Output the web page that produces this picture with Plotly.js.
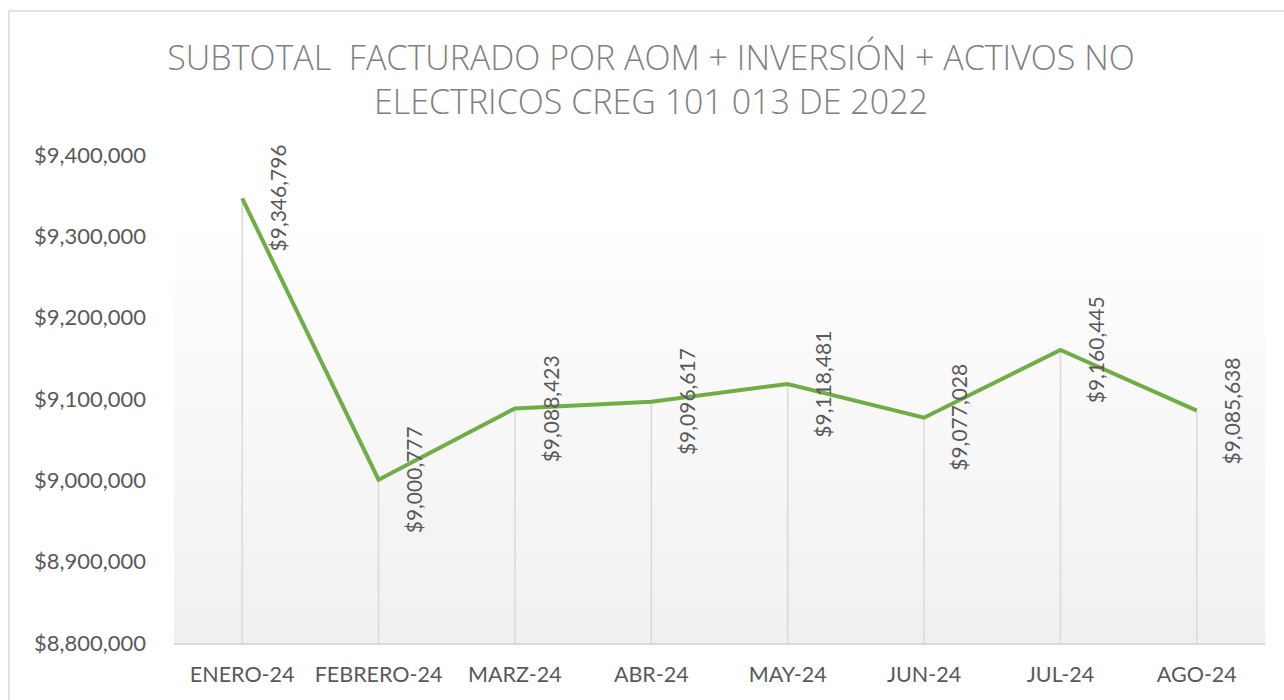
<!DOCTYPE html>
<html>
<head>
<meta charset="utf-8">
<script src="https://cdn.plot.ly/plotly-3.0.1.min.js"></script>
<style>html,body{margin:0;padding:0;background:#fff;}#chart{width:1284px;height:700px;}</style>
</head>
<body>
<div id="chart"></div>
<script>
const categories = ["ENERO-24","FEBRERO-24","MARZ-24","ABR-24","MAY-24","JUN-24","JUL-24","AGO-24"];
const values = [9346796, 9000777, 9088423, 9096617, 9118481, 9077028, 9160445, 9085638];
const yTicks = [8800000, 8900000, 9000000, 9100000, 9200000, 9300000, 9400000];
const yMin = 8800000, yMax = 9400000;

const fmt = v => "$" + v.toLocaleString("en-US");
const idx = categories.map((c, i) => i);

const gradSvg = "<svg xmlns='http://www.w3.org/2000/svg' width='10' height='100' preserveAspectRatio='none'><defs><linearGradient id='g' x1='0' y1='0' x2='0' y2='1'><stop offset='0' stop-color='#ffffff'/><stop offset='0.12' stop-color='#ffffff'/><stop offset='1' stop-color='#f0f0f0'/></linearGradient></defs><rect width='10' height='100' fill='url(#g)'/></svg>";

const drop = {
  x: idx, y: values, type: "scatter", mode: "markers",
  marker: {size: 1, opacity: 0},
  hoverinfo: "skip", showlegend: false,
  error_y: {type: "data", symmetric: false, array: values.map(() => 0),
            arrayminus: values.map(v => v - yMin), color: "#d9d9d9", thickness: 1.5, width: 0}
};
const line = {
  x: idx, y: values, type: "scatter", mode: "lines",
  line: {color: "#70AD47", width: 4}, showlegend: false
};

const annotations = values.map((v, i) => ({
  x: i, y: v, xref: "x", yref: "y", text: fmt(v), showarrow: false,
  textangle: -90, xshift: 35, xanchor: "center", yanchor: "middle",
  font: {family: "Lato, 'Open Sans', sans-serif", size: 21, color: "#595959"}
}));

const layout = {
  width: 1284, height: 700,
  margin: {l: 174, r: 19, t: 155, b: 57},
  paper_bgcolor: "#ffffff", plot_bgcolor: "rgba(0,0,0,0)",
  title: {
    text: "SUBTOTAL  FACTURADO POR AOM + INVERSIÓN + ACTIVOS NO<br>ELECTRICOS CREG 101 013 DE 2022",
    font: {family: "'Open Sans', sans-serif", size: 34, color: "#808080", weight: 300},
    x: 0.507, xref: "container", xanchor: "center",
    y: 0.9, yref: "container", yanchor: "top"
  },
  xaxis: {
    range: [-0.5, categories.length - 0.5], tickmode: "array", tickvals: idx, ticktext: categories,
    showgrid: false, zeroline: false, showline: true, linecolor: "#d9d9d9", linewidth: 1.5,
    ticks: "", ticklabelstandoff: 12,
    tickfont: {family: "Lato, 'Open Sans', sans-serif", size: 21.5, color: "#595959"}
  },
  yaxis: {
    range: [yMin, yMax], tickmode: "array", tickvals: yTicks,
    ticktext: yTicks.map(fmt),
    showgrid: false, zeroline: false, showline: false, ticks: "", ticklabelstandoff: 27,
    tickfont: {family: "Lato, 'Open Sans', sans-serif", size: 22, color: "#595959"}
  },
  images: [{
    source: "data:image/svg+xml;charset=utf-8," + encodeURIComponent(gradSvg),
    xref: "paper", yref: "paper", x: 0, y: 1, sizex: 1, sizey: 1,
    xanchor: "left", yanchor: "top", sizing: "stretch", layer: "below"
  }],
  shapes: [{
    type: "rect", xref: "paper", yref: "paper",
    x0: (9 - 174) / 1091, x1: 1.1, y0: -0.3, y1: (643 - 11) / 488,
    line: {color: "#d9d9d9", width: 1.5}, fillcolor: "rgba(0,0,0,0)", layer: "below"
  }],
  annotations: annotations
};

Plotly.newPlot("chart", [drop, line], layout, {displayModeBar: false, staticPlot: true});
</script>
</body>
</html>
